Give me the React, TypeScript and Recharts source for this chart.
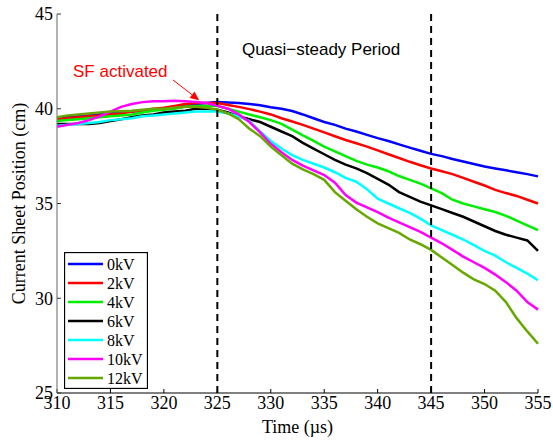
import { Legend, Line, LineChart, ReferenceDot, ReferenceLine, XAxis, YAxis } from "recharts";

const times = [
  310, 311, 312, 313, 314, 315, 316, 317, 318, 319,
  320, 321, 322, 323, 324, 325, 326, 327, 328, 329,
  330, 331, 332, 333, 334, 335, 336, 337, 338, 339,
  340, 341, 342, 343, 344, 345, 346, 347, 348, 349,
  350, 351, 352, 353, 354, 355,
];

const kv0 = [
  39.5, 39.55, 39.6, 39.65, 39.7, 39.75, 39.8, 39.85, 39.9, 39.95,
  40.0, 40.05, 40.15, 40.25, 40.3, 40.35, 40.33, 40.3, 40.25, 40.18,
  40.08, 40.0, 39.88, 39.7, 39.5, 39.3, 39.15, 38.95, 38.8, 38.62,
  38.45, 38.3, 38.12, 37.95, 37.78, 37.62, 37.5, 37.35, 37.22, 37.08,
  36.95, 36.85, 36.75, 36.65, 36.55, 36.43,
];
const kv2 = [
  39.45, 39.5, 39.55, 39.6, 39.65, 39.7, 39.75, 39.85, 39.9, 40.0,
  40.05, 40.15, 40.25, 40.3, 40.3, 40.3, 40.2, 40.1, 39.98, 39.85,
  39.7, 39.5, 39.33, 39.15, 38.95, 38.75, 38.55, 38.35, 38.18, 38.0,
  37.8, 37.6, 37.4, 37.2, 37.02, 36.85, 36.7, 36.55, 36.35, 36.15,
  35.95, 35.72, 35.55, 35.4, 35.2, 35.0,
];
const kv4 = [
  39.35, 39.4, 39.45, 39.5, 39.55, 39.6, 39.65, 39.7, 39.8, 39.9,
  39.95, 40.0, 40.1, 40.15, 40.15, 40.15, 40.0, 39.85, 39.7, 39.55,
  39.4, 39.2, 38.9, 38.6, 38.3, 38.0, 37.75, 37.5, 37.25, 37.05,
  36.9, 36.7, 36.45, 36.25, 36.05, 35.8, 35.55, 35.2, 35.0, 34.85,
  34.7, 34.55, 34.35, 34.1, 33.85, 33.6,
];
const kv6 = [
  39.2, 39.2, 39.2, 39.2, 39.25, 39.35, 39.45, 39.55, 39.65, 39.7,
  39.8, 39.85, 39.9, 40.0, 40.0, 39.95, 39.8, 39.6, 39.45, 39.3,
  39.05, 38.8, 38.55, 38.2, 37.9, 37.6, 37.3, 37.05, 36.85, 36.6,
  36.3, 36.0, 35.6, 35.35, 35.1, 34.9, 34.7, 34.5, 34.3, 34.05,
  33.8, 33.55, 33.35, 33.2, 33.05, 32.5,
];
const kv8 = [
  39.1, 39.15, 39.2, 39.25, 39.3, 39.4, 39.45, 39.5, 39.6, 39.65,
  39.7, 39.75, 39.8, 39.85, 39.85, 39.85, 39.75, 39.6, 39.35, 38.8,
  38.3, 37.9, 37.55, 37.3, 37.1, 36.9, 36.65, 36.35, 36.15, 35.75,
  35.25, 35.0, 34.75, 34.5, 34.2, 33.85, 33.6, 33.35, 33.1, 32.8,
  32.5, 32.25, 31.9, 31.6, 31.3, 30.95,
];
const kv10 = [
  39.05, 39.15, 39.25, 39.4, 39.6, 39.85, 40.1, 40.25, 40.35, 40.4,
  40.4, 40.42, 40.4, 40.35, 40.3, 40.15, 40.0, 39.7, 39.3, 38.75,
  38.15, 37.7, 37.3, 37.0, 36.75, 36.5, 36.1, 35.45, 35.05, 34.8,
  34.55, 34.25, 34.0, 33.75, 33.5, 33.2, 32.9, 32.55, 32.2, 31.9,
  31.6, 31.25, 30.85, 30.4, 29.8, 29.4,
];
const kv12 = [
  39.55, 39.65, 39.7, 39.75, 39.8, 39.85, 39.87, 39.9, 39.95, 40.0,
  40.0, 40.05, 40.1, 40.1, 40.05, 39.95, 39.75, 39.45, 38.95, 38.55,
  38.0, 37.55, 37.1, 36.8, 36.55, 36.25, 35.6, 35.15, 34.7, 34.3,
  33.95, 33.7, 33.45, 33.1, 32.85, 32.55, 32.15, 31.75, 31.35, 31.0,
  30.75, 30.4, 29.8, 28.95, 28.25, 27.6,
];

const xTicks = [310, 315, 320, 325, 330, 335, 340, 345, 350, 355];
const yTicks = [25, 30, 35, 40, 45];
const periodBounds = [325, 345];

const series = [
  { key: "0kV", values: kv0, color: "#0000ff" },
  { key: "2kV", values: kv2, color: "#ff0000" },
  { key: "4kV", values: kv4, color: "#00ee00" },
  { key: "6kV", values: kv6, color: "#000000" },
  { key: "8kV", values: kv8, color: "#00ffff" },
  { key: "10kV", values: kv10, color: "#ff00ff" },
  { key: "12kV", values: kv12, color: "#66a800" },
];

const data = times.map((t, i) => {
  const row: Record<string, number> = { t };
  for (const s of series) row[s.key] = s.values[i];
  return row;
});

const serif = "'Liberation Serif', 'Times New Roman', serif";
const sans = "'Liberation Sans', Arial, sans-serif";
const tickStyle = { fontFamily: serif, fontSize: 18, fill: "#000" };

function LegendBox() {
  return (
    <svg width={84} height={137} style={{ display: "block" }}>
      <rect x={0.5} y={0.5} width={83} height={136} fill="#fff" stroke="#000" strokeWidth={1.3} />
      {series.map((s, i) => {
        const y = 12 + i * 19;
        return (
          <g key={s.key}>
            <line x1={4} x2={39} y1={y} y2={y} stroke={s.color} strokeWidth={2.5} />
            <text x={43} y={y + 5.5} fontFamily={serif} fontSize={16} fill="#000">
              {s.key}
            </text>
          </g>
        );
      })}
    </svg>
  );
}

function Arrow(props: any) {
  const { x1, y1, x2, y2 } = props;
  const ang = Math.atan2(y2 - y1, x2 - x1);
  const len = 9;
  const w = 4;
  const bx = x2 - len * Math.cos(ang);
  const by = y2 - len * Math.sin(ang);
  const px = -Math.sin(ang) * w;
  const py = Math.cos(ang) * w;
  return (
    <g>
      <line x1={x1} y1={y1} x2={bx} y2={by} stroke="#ff0000" strokeWidth={1} />
      <polygon points={`${x2},${y2} ${bx + px},${by + py} ${bx - px},${by - py}`} fill="#ff0000" />
    </g>
  );
}

export default function App() {
  return (
    <div style={{ position: "absolute", left: 0, top: 0, width: 553, height: 441, background: "#fff" }}>
      <LineChart width={553} height={441} data={data} margin={{ top: 14, right: 15, bottom: 0, left: 0 }}>
        <XAxis
          dataKey="t"
          type="number"
          domain={[310, 355]}
          ticks={xTicks}
          height={48}
          tick={tickStyle}
          tickSize={-4}
          tickMargin={7}
          axisLine={{ stroke: "#000", strokeWidth: 1 }}
          tickLine={{ stroke: "#000" }}
          label={(p: any) => {
            const vb = p.viewBox;
            return (
              <text x={vb.x + vb.width / 2} y={vb.y + 40} textAnchor="middle" fontFamily={serif} fontSize={18} fill="#000">
                Time (µs)
              </text>
            );
          }}
        />
        <YAxis
          type="number"
          domain={[25, 45]}
          ticks={yTicks}
          width={57}
          tick={tickStyle}
          tickSize={-4}
          tickMargin={8}
          axisLine={{ stroke: "#808080", strokeWidth: 1.2 }}
          tickLine={{ stroke: "#333" }}
          label={(p: any) => {
            const vb = p.viewBox;
            const cx = 25;
            const cy = vb.y + vb.height / 2;
            return (
              <text
                x={cx}
                y={cy}
                transform={`rotate(-90 ${cx} ${cy})`}
                textAnchor="middle"
                fontFamily={serif}
                fontSize={18}
                fill="#000"
              >
                Current Sheet Position (cm)
              </text>
            );
          }}
        />
        {series.map((s) => (
          <Line
            key={s.key}
            dataKey={s.key}
            type="linear"
            stroke={s.color}
            strokeWidth={2.5}
            dot={false}
            activeDot={false}
            isAnimationActive={false}
          />
        ))}
        {periodBounds.map((x) => (
          <ReferenceLine key={x} x={x} stroke="#000" strokeWidth={2} strokeDasharray="7 5" />
        ))}
        <ReferenceLine
          segment={[
            { x: 320.85, y: 41.52 },
            { x: 323.3, y: 40.45 },
          ]}
          shape={Arrow}
        />
        <ReferenceDot
          x={327.3}
          y={42.85}
          r={0}
          shape={(p: any) => (
            <text x={p.cx} y={p.cy} fontFamily={sans} fontSize={17} fill="#000">
              Quasi−steady Period
            </text>
          )}
        />
        <ReferenceDot
          x={311.5}
          y={41.68}
          r={0}
          shape={(p: any) => (
            <text x={p.cx} y={p.cy} fontFamily={sans} fontSize={17} fill="#ff0000">
              SF activated
            </text>
          )}
        />
        <Legend
          layout="vertical"
          align="center"
          verticalAlign="middle"
          wrapperStyle={{ left: 64, top: 252, width: 84, height: 137 }}
          content={() => <LegendBox />}
        />
      </LineChart>
    </div>
  );
}
